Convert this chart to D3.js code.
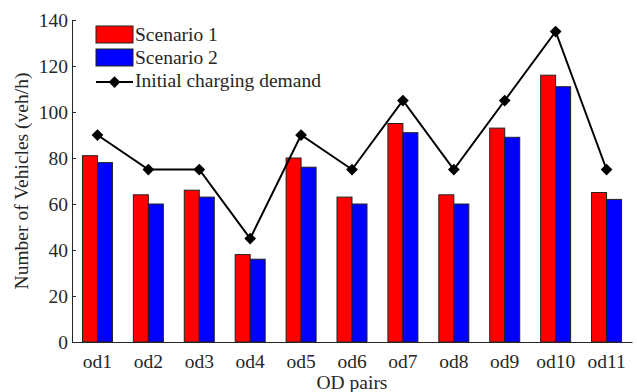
<!DOCTYPE html>
<html>
<head>
<meta charset="utf-8">
<script src="https://cdn.jsdelivr.net/npm/d3@7"></script>
<style>
  body { margin: 0; background: #fff; }
</style>
</head>
<body>
<div id="chart"></div>
<script>
const categories = ['od1', 'od2', 'od3', 'od4', 'od5', 'od6', 'od7', 'od8', 'od9', 'od10', 'od11'];
const scenario1 = [81, 64, 66, 38, 80, 63, 95, 64, 93, 116, 65];
const scenario2 = [78, 60, 63, 36, 76, 60, 91, 60, 89, 111, 62];
const demand = [90, 75, 75, 45, 90, 75, 105, 75, 105, 135, 75];
const yTicks = [0, 20, 40, 60, 80, 100, 120, 140];

const width = 637, height = 392;
const margin = { top: 20, right: 5, bottom: 50, left: 72 };
const serif = 'Liberation Serif';

const svg = d3.select('#chart')
  .append('svg')
  .attr('width', width)
  .attr('height', height);

const x = d3.scaleBand()
  .domain(categories)
  .range([margin.left, width - margin.right]);

const y = d3.scaleLinear()
  .domain([0, 140])
  .range([height - margin.bottom, margin.top]);

const barW = 15;

// bars
const groups = svg.append('g')
  .selectAll('g')
  .data(categories)
  .join('g')
  .attr('transform', (d) => `translate(${x(d) + x.bandwidth() / 2},0)`);

groups.append('rect')
  .attr('x', -barW)
  .attr('y', (d, i) => y(scenario1[i]))
  .attr('width', barW)
  .attr('height', (d, i) => y(0) - y(scenario1[i]))
  .attr('fill', '#ff0000')
  .attr('stroke', '#222')
  .attr('stroke-width', 1);

groups.append('rect')
  .attr('x', 0)
  .attr('y', (d, i) => y(scenario2[i]))
  .attr('width', barW)
  .attr('height', (d, i) => y(0) - y(scenario2[i]))
  .attr('fill', '#0000ff')
  .attr('stroke', '#222')
  .attr('stroke-width', 1);

// demand line
const line = d3.line()
  .x((d, i) => x(categories[i]) + x.bandwidth() / 2)
  .y((d) => y(d));

svg.append('path')
  .datum(demand)
  .attr('d', line)
  .attr('fill', 'none')
  .attr('stroke', '#000')
  .attr('stroke-width', 2);

const diamond = d3.symbol().type(d3.symbolDiamond2).size(88);
svg.append('g')
  .selectAll('path')
  .data(demand)
  .join('path')
  .attr('d', diamond)
  .attr('transform', (d, i) => `translate(${x(categories[i]) + x.bandwidth() / 2},${y(d)})`)
  .attr('fill', '#000');

// axes
const yAxis = d3.axisLeft(y).tickValues(yTicks).tickSize(-4).tickPadding(4);
svg.append('g')
  .attr('transform', `translate(${margin.left},0)`)
  .call(yAxis)
  .call((g) => g.select('.domain').attr('stroke', '#262626'))
  .call((g) => g.selectAll('.tick line').attr('stroke', '#262626'))
  .call((g) => g.selectAll('text').attr('fill', '#262626'));

const xAxis = d3.axisBottom(x).tickSize(0).tickPadding(12);
svg.append('g')
  .attr('transform', `translate(0,${y(0)})`)
  .call(xAxis)
  .call((g) => g.select('.domain').attr('stroke', '#262626'))
  .call((g) => g.selectAll('text').attr('fill', '#262626'));

// axis titles
svg.append('text')
  .attr('x', (margin.left + width - margin.right) / 2)
  .attr('y', 389)
  .attr('text-anchor', 'middle')
  .attr('fill', '#262626')
  .text('OD pairs');

svg.append('text')
  .attr('transform', `translate(28,${(margin.top + height - margin.bottom) / 2}) rotate(-90)`)
  .attr('text-anchor', 'middle')
  .attr('fill', '#262626')
  .text('Number of Vehicles (veh/h)');

// legend
const legend = svg.append('g').attr('transform', 'translate(96,26)');
const legendItems = [
  { label: 'Scenario 1', color: '#ff0000' },
  { label: 'Scenario 2', color: '#0000ff' },
];
legendItems.forEach((item, i) => {
  legend.append('rect')
    .attr('x', 0)
    .attr('y', i * 23)
    .attr('width', 37)
    .attr('height', 17)
    .attr('fill', item.color)
    .attr('stroke', '#222');
  legend.append('text')
    .attr('x', 39)
    .attr('y', i * 23 + 15)
    .attr('fill', '#262626')
    .text(item.label);
});
legend.append('line')
  .attr('x1', 0).attr('x2', 37)
  .attr('y1', 56).attr('y2', 56)
  .attr('stroke', '#000').attr('stroke-width', 2);
legend.append('path')
  .attr('d', diamond)
  .attr('transform', 'translate(18.5,56)')
  .attr('fill', '#000');
legend.append('text')
  .attr('x', 39)
  .attr('y', 61)
  .attr('fill', '#262626')
  .text('Initial charging demand');

// one font for every text
svg.selectAll('text')
  .style('font-family', serif)
  .style('font-size', '19.5px');
</script>
</body>
</html>
